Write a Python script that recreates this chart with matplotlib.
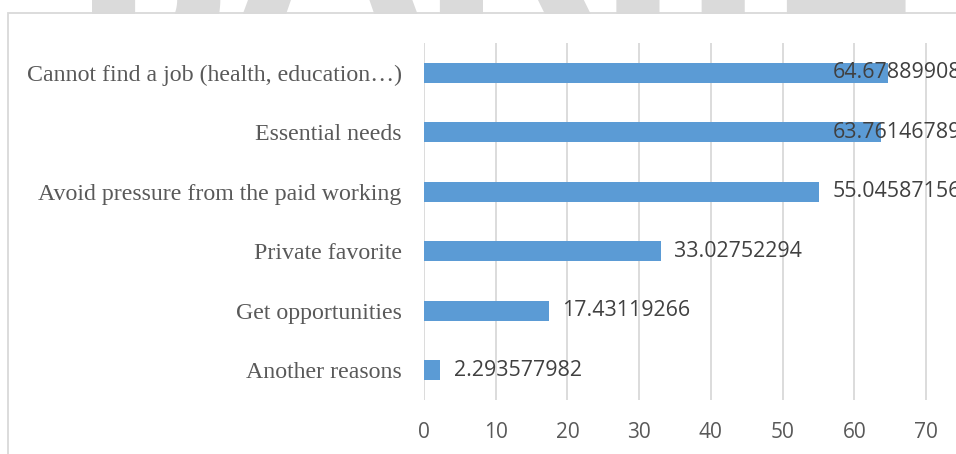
import matplotlib.pyplot as plt
from matplotlib.patches import Rectangle

# Data (bottom to top)
categories = ["Another reasons", "Get opportunities", "Private favorite",
              "Avoid pressure from the paid working", "Essential needs",
              "Cannot find a job (health, education\u2026)"]
values = [2.293577982, 17.43119266, 33.02752294, 55.04587156, 63.76146789, 64.67889908]
xticks = [0, 10, 20, 30, 40, 50, 60, 70]

W, H = 956, 454
fig = plt.figure(figsize=(W / 100, H / 100), dpi=100)

# faint watermark at the very top, mostly off the page
fig.text(0.52, 1 - 14 / H, "IJARIIE", ha="center", va="baseline",
         fontsize=165, fontweight="bold", color="#dadada", family="DejaVu Sans",
         zorder=0.1)
fig.patches.append(Rectangle((0, -0.1), 1, 1 - 14 / H + 0.1,
                             transform=fig.transFigure, facecolor="white",
                             edgecolor="none", zorder=0.5))
# outer chart frame (extends past the right and bottom edges)
fig.patches.append(Rectangle((8 / W, -0.1), 1.2, 1 - 13 / H + 0.1,
                             transform=fig.transFigure, fill=False,
                             edgecolor="#d9d9d9", linewidth=1.3, zorder=0.6))

px = 502 / 70  # pixels per unit
left = 424 / W
right = (424 + 80 * px) / W
top = 1 - 43 / H
bottom = 1 - 400 / H
ax = fig.add_axes([left, bottom, right - left, top - bottom])
ax.set_zorder(1)
ax.patch.set_alpha(0)

ax.barh(range(len(values)), values, height=0.34, color="#5b9bd5", zorder=2)

label_max = (833 - 424) / px
for i, v in enumerate(values):
    ax.text(min(v + 13.5 / px, label_max), i, str(v), va="center", ha="left",
            fontsize=15.4, family="Open Sans", color="#404040", zorder=3)

ax.set_xlim(0, 80)
ax.set_ylim(-0.5, len(values) - 0.5)
ax.set_xticks(xticks)
ax.set_xticklabels([str(t) for t in xticks], family="Open Sans", fontsize=15, color="#595959")
ax.set_yticks(range(len(categories)))
ax.set_yticklabels(categories, family="Liberation Serif", fontsize=17.2, color="#595959")
ax.tick_params(axis="both", length=0)
ax.tick_params(axis="y", pad=16)
ax.tick_params(axis="x", pad=16)
ax.grid(axis="x", color="#d9d9d9", linewidth=1.3, zorder=0)
for s in ax.spines.values():
    s.set_visible(False)

fig.savefig("out.png", dpi=100)
